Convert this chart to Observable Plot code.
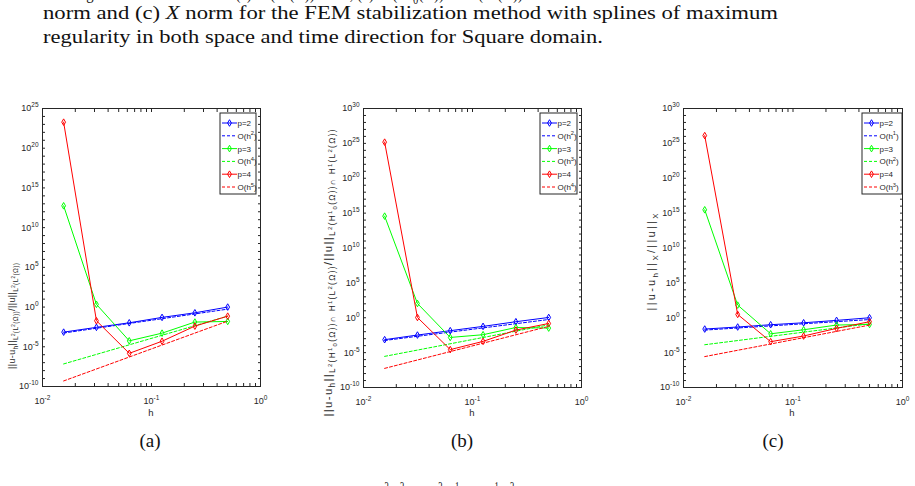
<!DOCTYPE html>
<html><head><meta charset="utf-8">
<script src="https://cdn.jsdelivr.net/npm/d3@7"></script>
<script src="https://cdn.jsdelivr.net/npm/@observablehq/plot@0.6"></script>
<style>
html,body{margin:0;padding:0;background:#fff;}
#page{position:relative;width:915px;height:486px;overflow:hidden;}
.panel{position:absolute;}
#overlay{position:absolute;left:0;top:0;}
</style></head><body><div id="page"></div>
<script>
// ---------------- data ----------------
const hVals = [1/64, 1/32, 1/16, 1/8, 1/4, 1/2];
const hRef = [1/64, 1/2];               // reference lines drawn between these h
const seriesColors = ["#0000ff", "#00ff00", "#ff0000"];

// (a) L2(L2) norm
const errA_p2 = [7e-4, 2.8e-3, 1.05e-2, 5e-2, 0.19, 1.0];
const errA_p3 = [5.6e12, 2.2, 5.6e-5, 5.2e-4, 1.3e-2, 1.55e-2];
const errA_p4 = [1.9e23, 0.019, 1.5e-6, 5e-5, 4e-3, 0.072];
const refA_p2 = [5.4e-4, 0.55];
const refA_p3 = [6.9e-8, 0.072];
const refA_p4 = [5e-10, 0.017];
const legendA = ["p=2", "O(h^{2})", "p=3", "O(h^{4})", "p=4", "O(h^{5})"];

// (b) L2(H1_0) ∩ H1(L2) norm
const errB_p2 = [7.2e-4, 3.3e-3, 1.4e-2, 5.8e-2, 0.27, 1.1];
const errB_p3 = [3.7e14, 112, 1.5e-3, 3.7e-3, 0.04, 0.033];
const errB_p4 = [1.5e25, 1.1, 2.7e-5, 4.1e-4, 0.017, 0.15];
const refB_p2 = [5.5e-4, 0.56];
const refB_p3 = [2.9e-6, 0.095];
const refB_p4 = [5.5e-8, 0.058];
const legendB = ["p=2", "O(h^{2})", "p=3", "O(h^{3})", "p=4", "O(h^{4})"];

// (c) X norm
const errC_p2 = [0.024, 0.047, 0.1, 0.19, 0.42, 1.0];
const errC_p3 = [3e15, 65, 5e-3, 0.019, 0.09, 0.11];
const errC_p4 = [1.3e26, 3, 3.7e-4, 2.4e-3, 0.03, 0.27];
const refC_p2 = [0.017, 0.55];
const refC_p3 = [1.35e-4, 0.138];
const refC_p4 = [2.7e-6, 0.089];
const legendC = ["p=2", "O(h^{1})", "p=3", "O(h^{2})", "p=4", "O(h^{3})"];

const xMajorTicks = [1e-2, 1e-1, 1e0];
const yMajorA = [1e-10, 1e-5, 1e0, 1e5, 1e10, 1e15, 1e20, 1e25];
const yMajorBC = [1e-10, 1e-5, 1e0, 1e5, 1e10, 1e15, 1e20, 1e25, 1e30];

const ylabelA = "||u-u_{h}||_{L^{2}(L^{2}(Ω))}/||u||_{L^{2}(L^{2}(Ω))}";
const ylabelB = "||u-u_{h}||_{L^{2}(H^{1}_{0}(Ω))∩ H^{1}(L^{2}(Ω))}/||u||_{L^{2}(H^{1}_{0}(Ω))∩ H^{1}(L^{2}(Ω))}";
const ylabelC = "||u-u_{h}||_{X}/||u||_{X}";

// ---------------- helpers ----------------
const supMap = {"-":"⁻","0":"⁰","1":"¹","2":"²","3":"³","4":"⁴","5":"⁵","6":"⁶","7":"⁷","8":"⁸","9":"⁹"};
const revSup = Object.fromEntries(Object.entries(supMap).map(([k, v]) => [v, k]));
const powFmt = d => "10" + String(Math.round(Math.log10(d))).split("").map(c => supMap[c]).join("");
const axisCol = "#262626";
const sans = "'Liberation Sans', Arial, Helvetica, sans-serif";

function parseTeX(s) {
  const out = [];
  function rec(i, shift, scale, inBrace) {
    let buf = "";
    const flush = () => { if (buf) { out.push({t: buf, shift, scale}); buf = ""; } };
    while (i < s.length) {
      const c = s[i];
      if (c === "}" && inBrace) { flush(); return i + 1; }
      if ((c === "_" || c === "^") && s[i + 1] === "{") {
        flush();
        i = rec(i + 2, shift + (c === "_" ? 0.28 * scale : -0.42 * scale), scale * 0.72, true);
        continue;
      }
      buf += c; i++;
    }
    flush(); return i;
  }
  rec(0, 0, 1, false);
  return out;
}
function richText(sel, str, base) {
  const segs = parseTeX(str);
  let cur = 0;
  for (const s of segs) {
    sel.append("tspan").attr("font-size", base * s.scale).attr("dy", (s.shift - cur) * base).text(s.t);
    cur = s.shift;
  }
  return sel;
}

const page = d3.select("#page");

function panel(cfg) {
  const {axL, axR, axT, axB, yMax, yMajor, p2, p3, p4, r2, r3, r4} = cfg;
  const mL = 40, mR = 8, mT = 10, mB = 36;
  const W = axR - axL + mL + mR, H = axB - axT + mT + mB;
  const decades = d3.range(-10, Math.round(Math.log10(yMax)) + 1).map(k => Math.pow(10, k));
  const xAll = [];
  for (const e of [-2, -1]) for (let m = 1; m <= 9; m++) xAll.push(m * Math.pow(10, e));
  xAll.push(1);
  const rows = v => hVals.map((x, i) => ({h: x, e: v[i]}));
  const refRows = v => hRef.map((x, i) => ({h: x, e: v[i]}));
  const dataMarks = [];
  [[p2, r2], [p3, r3], [p4, r4]].forEach(([p, r], k) => {
    const c = seriesColors[k];
    dataMarks.push(Plot.line(refRows(r), {x: "h", y: "e", stroke: c, strokeWidth: 1, strokeDasharray: "3,2"}));
    dataMarks.push(Plot.line(rows(p), {x: "h", y: "e", stroke: c, strokeWidth: 1}));
    dataMarks.push(Plot.dot(rows(p), {x: "h", y: "e", stroke: c, fill: "none", symbol: "diamond", r: 2, strokeWidth: 1}));
  });
  const chart = Plot.plot({
    width: W, height: H, marginLeft: mL, marginRight: mR, marginTop: mT, marginBottom: mB,
    style: {fontFamily: sans, fontSize: "9px", color: axisCol, background: "transparent", overflow: "visible"},
    x: {type: "log", domain: [1e-2, 1]},
    y: {type: "log", domain: [1e-10, yMax]},
    marks: [
      Plot.axisX(xAll, {anchor: "bottom", tickSize: -3, tickFormat: () => "", label: null, stroke: axisCol}),
      Plot.axisX(xAll, {anchor: "top", tickSize: -3, tickFormat: () => "", label: null, stroke: axisCol}),
      Plot.axisX(xMajorTicks, {anchor: "bottom", tickSize: 0, tickPadding: 11, tickFormat: powFmt, label: null, fill: axisCol}),
      Plot.axisY(decades, {anchor: "left", tickSize: -3, tickFormat: () => "", label: null, stroke: axisCol}),
      Plot.axisY(decades, {anchor: "right", tickSize: -3, tickFormat: () => "", label: null, stroke: axisCol}),
      Plot.axisY(yMajor, {anchor: "left", tickSize: 0, tickPadding: 4, tickFormat: powFmt, label: null, fill: axisCol}),
      ...dataMarks,
      Plot.frame({stroke: axisCol, strokeWidth: 1})
    ]
  });
  // render tick-label exponents as raised tspans
  d3.select(chart).selectAll("text").each(function () {
    const s = this.textContent;
    if (!/^10[⁻⁰¹²³⁴⁵⁶⁷⁸⁹]+$/.test(s)) return;
    const exp = s.slice(2).split("").map(c => revSup[c]).join("");
    const sel = d3.select(this);
    sel.selectAll("*").remove();
    sel.text("");
    sel.append("tspan").text("10");
    sel.append("tspan").attr("font-size", 6.5).attr("dy", -4).text(exp);
  });
  const div = page.append("div").attr("class", "panel")
    .style("left", (axL - mL) + "px").style("top", (axT - mT) + "px");
  div.node().appendChild(chart);
}

panel({axL: 42, axR: 260, axT: 108, axB: 386, yMax: 1e25, yMajor: yMajorA,
  p2: errA_p2, p3: errA_p3, p4: errA_p4, r2: refA_p2, r3: refA_p3, r4: refA_p4});
panel({axL: 363, axR: 581, axT: 108, axB: 387, yMax: 1e30, yMajor: yMajorBC,
  p2: errB_p2, p3: errB_p3, p4: errB_p4, r2: refB_p2, r3: refB_p3, r4: refB_p4});
panel({axL: 683, axR: 902, axT: 108, axB: 387, yMax: 1e30, yMajor: yMajorBC,
  p2: errC_p2, p3: errC_p3, p4: errC_p4, r2: refC_p2, r3: refC_p3, r4: refC_p4});

// ---------------- overlay: texts, labels, legends ----------------
const ov = page.append("svg").attr("id", "overlay").attr("width", 915).attr("height", 486);
const serif = "'Liberation Serif', 'DejaVu Serif', serif";

// caption text (partially cut at the top)
const t0 = ov.append("text").attr("x", 43).attr("y", -1).attr("font-family", serif).attr("font-size", 19).attr("fill", "#111")
  .attr("textLength", 480).attr("lengthAdjust", "spacingAndGlyphs");
richText(t0, "Convergence of relative error in (a) L^{2}(L^{2}(Ω)) norm, (b) L^{2}(H^{1}_{0}(Ω)) ∩ H^{1}(L^{2}(Ω))", 19);

const t1 = ov.append("text").attr("x", 43).attr("y", 19).attr("font-family", serif).attr("font-size", 19).attr("fill", "#111")
  .attr("textLength", 735).attr("lengthAdjust", "spacingAndGlyphs");
t1.append("tspan").text("norm and (c) ");
t1.append("tspan").attr("font-style", "italic").text("X");
t1.append("tspan").text(" norm for the FEM stabilization method with splines of maximum");
ov.append("text").attr("x", 43).attr("y", 43).attr("font-family", serif).attr("font-size", 19).attr("fill", "#111")
  .attr("textLength", 560).attr("lengthAdjust", "spacingAndGlyphs")
  .text("regularity in both space and time direction for Square domain.");

// subfigure captions
[["(a)", 150], ["(b)", 462], ["(c)", 773]].forEach(([s, x]) =>
  ov.append("text").attr("x", x).attr("y", 447).attr("text-anchor", "middle").attr("font-family", serif)
    .attr("font-size", 19).attr("fill", "#111").text(s));

// next caption line (cut at the bottom)
const tb = ov.append("text").attr("x", 365).attr("y", 500).attr("font-family", serif).attr("font-size", 19).attr("fill", "#111")
  .attr("textLength", 170).attr("lengthAdjust", "spacingAndGlyphs");
richText(tb, "in L^{2}(L^{2}(Ω)), L^{2}(H^{1}(Ω)), H^{1}(L^{2}(Ω))", 19);

// axis labels
[[151, 416], [472, 416], [792, 416]].forEach(([x, y]) =>
  ov.append("text").attr("x", x).attr("y", y).attr("text-anchor", "middle").attr("font-family", sans)
    .attr("font-size", 9.5).attr("fill", axisCol).text("h"));

function ylabel(str, cx, cy, fs, len) {
  const t = ov.append("text").attr("transform", `translate(${cx + fs * 0.33},${cy}) rotate(-90)`)
    .attr("text-anchor", "middle").attr("font-family", sans).attr("font-size", fs).attr("fill", axisCol)
    .attr("textLength", len).attr("lengthAdjust", "spacing");
  richText(t, str, fs);
}
ylabel(ylabelA, 12, 316, 9, 106);
ylabel(ylabelB, 328, 273, 11.5, 287);
ylabel(ylabelC, 651, 262, 11, 97);

// legends
function legend(labels, bx1, bx2, by1, by2) {
  ov.append("rect").attr("x", bx1).attr("y", by1).attr("width", bx2 - bx1).attr("height", by2 - by1)
    .attr("fill", "#fff").attr("stroke", axisCol).attr("stroke-width", 1);
  labels.forEach((lab, i) => {
    const y = by1 + 10 + i * 12.8;
    const c = seriesColors[Math.floor(i / 2)];
    const solid = i % 2 === 0;
    ov.append("line").attr("x1", bx1 + 2).attr("x2", bx1 + 17).attr("y1", y).attr("y2", y)
      .attr("stroke", c).attr("stroke-width", 1).attr("stroke-dasharray", solid ? null : "3,2");
    if (solid) ov.append("path").attr("d", d3.symbol(d3.symbolDiamond, 12.6)())
      .attr("transform", `translate(${bx1 + 9.5},${y})`).attr("fill", "none").attr("stroke", c);
    const t = ov.append("text").attr("x", bx1 + 17.5).attr("y", y + 3).attr("font-family", sans)
      .attr("font-size", 8).attr("fill", axisCol);
    richText(t, lab, 8);
  });
}
legend(legendA, 220, 256, 113, 194);
legend(legendB, 540, 577, 113, 194);
legend(legendC, 862, 902, 113, 194);
</script></body></html>
